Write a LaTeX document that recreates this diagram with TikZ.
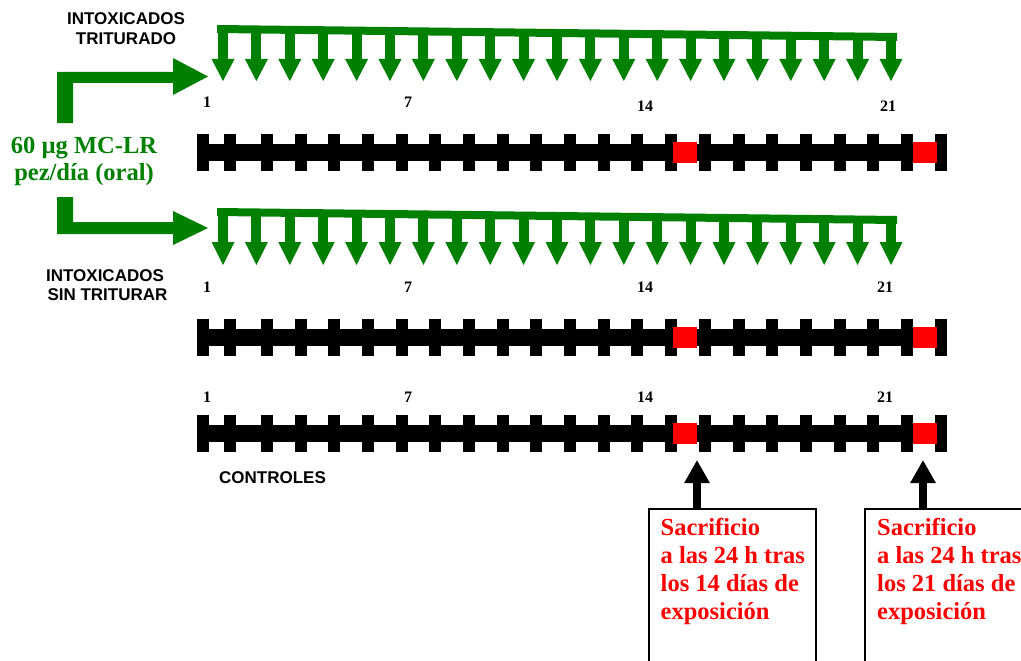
\documentclass[tikz,border=0pt]{standalone}
\usepackage{fontspec}
\setmainfont{Liberation Serif}
\setsansfont{Liberation Sans}
\usetikzlibrary{arrows.meta}
\definecolor{pgreen}{RGB}{0,128,0}
\definecolor{pred}{RGB}{255,0,0}

% one black timeline with ticks and two red markers
\newcommand\tlrow[2]{%
  \fill (197,#1-8.5) rectangle (947,#1+8.5);
  \foreach \xx in {197,224,935} \fill (\xx,#1-18.5) rectangle (\xx+12,#1+18.5);
  \foreach \k in {0,...,19} \fill ({261+33.68*\k},#1-18.5) rectangle ({273+33.68*\k},#1+18.5);
  \node[redsq] (#2a) at (685,#1) {};
  \node[redsq] (#2b) at (925,#1) {};
}
% green comb of 21 daily dose arrows
\newcommand\combrow[4]{%
  \fill[pgreen] (217,#1) -- (897,#2) -- (897,#2+8) -- (217,#1+8) -- cycle;
  \foreach \i in {0,...,20}{
    \pgfmathsetmacro\cx{223+33.4*\i}
    \pgfmathsetmacro\cy{#1+(#2-#1)*\i/20+4}
    \fill[pgreen] (\cx-5,\cy) rectangle (\cx+5,#3);
    \fill[pgreen] (\cx-11.5,#3) -- (\cx+11.5,#3) -- (\cx,#4) -- cycle;
  }
}

\begin{document}
\begin{tikzpicture}[x=1pt,y=-1pt,
  lab/.style={font=\sffamily\bfseries\fontsize{17}{20}\selectfont, inner sep=0pt, align=center},
  num/.style={font=\bfseries\fontsize{16}{18}\selectfont, inner sep=0pt},
  dose/.style={font=\bfseries\fontsize{24.5}{27}\selectfont, text=pgreen, inner sep=0pt, align=center},
  note/.style={font=\bfseries\fontsize{24.5}{28}\selectfont, text=pred, inner sep=0pt, align=left},
  notebox/.style={draw=black, line width=2pt, inner sep=0pt, anchor=north west},
  upArrow/.style={line width=8pt, -{Triangle[width=24pt,length=23pt]}},
  redsq/.style={fill=pred, minimum width=24pt, minimum height=21pt, inner sep=0pt},
]
\clip (0,0) rectangle (1021,661);
\fill[white] (0,0) rectangle (1021,661);

% group labels (base anchor = baseline of last line)
\node[lab, anchor=base] (grp1) at (126,45) {INTOXICADOS\\TRITURADO};
\node[lab, anchor=base, font=\sffamily\bfseries\fontsize{17}{18.5}\selectfont] (grp2) at (105,300) {INTOXICADOS\\\hspace*{5pt}SIN TRITURAR};
\node[lab, anchor=base] (grp3) at (272.5,483) {CONTROLES};

% dose text
\node[dose, anchor=base] (dose) at (84,180) {60 µg MC-LR\\pez/día (oral)};

% green elbow arrows
\fill[pgreen] (57,123) -- (57,72) -- (173,72) -- (173,58) -- (208,76.5) -- (173,95) -- (173,83) -- (73,83) -- (73,123) -- cycle;
\fill[pgreen] (57,197) -- (73,197) -- (73,222) -- (173,222) -- (173,211) -- (208,228) -- (173,245) -- (173,234) -- (57,234) -- cycle;

% combs
\combrow{25}{33}{59}{81}
\combrow{208}{216}{242}{265}

% day numbers
\node[num] (n1a) at (207,102) {1};
\node[num] (n7a) at (408,102) {7};
\node[num] (n14a) at (645,106) {14};
\node[num] (n21a) at (888,106) {21};
\node[num] (n1b) at (207,287) {1};
\node[num] (n7b) at (408,287) {7};
\node[num] (n14b) at (645,287) {14};
\node[num] (n21b) at (885,287) {21};
\node[num] (n1c) at (207,397) {1};
\node[num] (n7c) at (408,397) {7};
\node[num] (n14c) at (645,397) {14};
\node[num] (n21c) at (885,397) {21};

% timelines
\tlrow{152}{ra}
\tlrow{337.5}{rb}
\tlrow{433}{rc}

% note boxes
\node[notebox, minimum width=167pt, minimum height=180pt] (box14) at (648,508) {};
\node[notebox, minimum width=190pt, minimum height=180pt] (box21) at (864,508) {};
\node[note, anchor=base west] (txt14) at (660.5,619) {Sacrificio\\a las 24 h tras\\los 14 días de\\exposición};
\node[note, anchor=base west] (txt21) at (877,619) {Sacrificio\\a las 24 h tras\\los 21 días de\\exposición};

% arrows to sacrifice days
\coordinate (s14) at (697,460);
\coordinate (s21) at (923,460);
\draw[upArrow] (box14.north -| s14) -- (s14);
\draw[upArrow] (box21.north -| s21) -- (s21);
\end{tikzpicture}
\end{document}
